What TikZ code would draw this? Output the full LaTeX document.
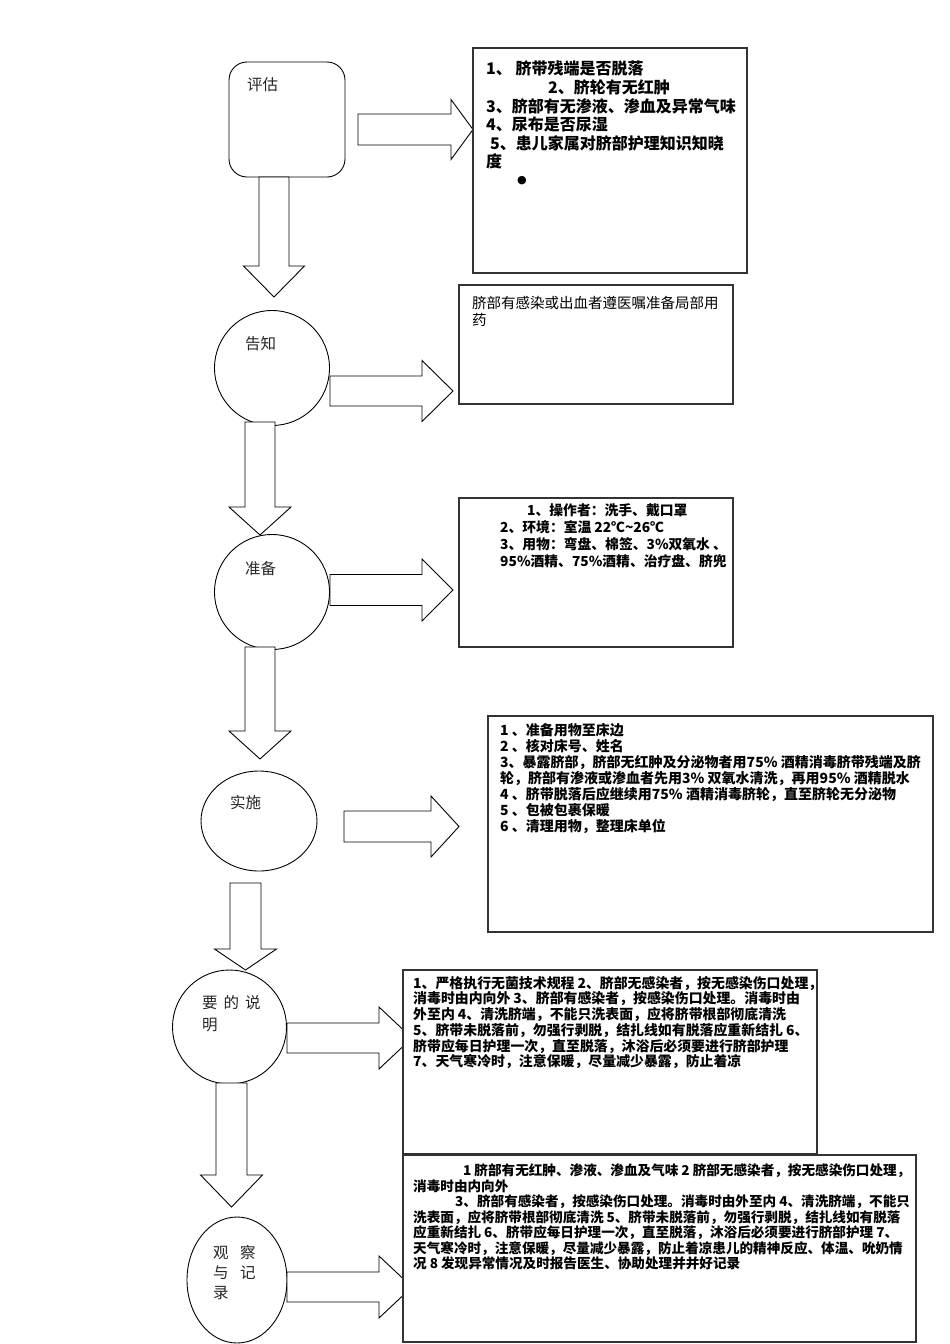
\documentclass[tikz,border=0pt]{standalone}
\usepackage{fontspec}
\setmainfont{Noto Sans CJK SC}
\newfontfamily\dejavu{DejaVu Sans}
\usetikzlibrary{shapes.geometric}
\newcommand\rblk[6]{% x0, xh, tip, yc, shaft half, head half
  \draw[blk] (#1,#4-#5) -- (#2,#4-#5) -- (#2,#4-#6) -- (#3,#4) -- (#2,#4+#6) -- (#2,#4+#5) -- (#1,#4+#5) -- cycle;}
\newcommand\dblk[6]{% xc, y0, yh, tip, shaft half, head half
  \draw[blk] (#1-#5,#2) -- (#1-#5,#3) -- (#1-#6,#3) -- (#1,#4) -- (#1+#6,#3) -- (#1+#5,#3) -- (#1+#5,#2) -- cycle;}
\newcommand\gapsp{\hspace{3pt}}
\begin{document}
\begin{tikzpicture}[x=1pt,y=-1pt,
  box/.style={draw=black!80, line width=1.2pt, fill=white, inner sep=0pt, outer sep=0pt, anchor=north west},
  blk/.style={draw=black, line width=0.9pt, fill=white, line join=miter},
  shp/.style={draw=black, line width=0.9pt, fill=white, inner sep=0pt},
  lbl/.style={font=\fontsize{15.5}{22}\selectfont, text=black!85, inner sep=0pt, anchor=west},
  txt/.style={inner sep=0pt, anchor=north west, align=left}]
\useasboundingbox[fill=white] (0,0) rectangle (950,1344);

% left shapes
\node[shp, rounded corners=18pt, minimum width=116pt, minimum height=115pt] (pg) at (287,119.5) {};
\node[shp, circle, minimum size=115pt] (gz) at (272,368) {};
\node[shp, circle, minimum size=115pt] (zb) at (272,592) {};
\node[shp, ellipse, minimum width=116pt, minimum height=100pt] (ss) at (259,821) {};
\node[shp, circle, minimum size=114pt] (sm) at (229.5,1027) {};
\node[shp, ellipse, minimum width=100pt, minimum height=126pt] (gc) at (237,1280) {};

% labels
\node[lbl] (l1) at (247,85) {评估};
\node[lbl] (l2) at (245,344) {告知};
\node[lbl] (l3) at (245,569) {准备};
\node[lbl] (l4) at (230,803) {实施};
\node[lbl, anchor=north west, align=left] (l5) at (202,995) {要\hspace{6pt}的\hspace{6pt}说\\明};
\node[lbl, anchor=north west, align=left, font=\fontsize{15.5}{20}\selectfont] (l6) at (213,1245) {观\hspace{11.5pt}察\\与\hspace{11.5pt}记\\录};

% down block arrows
\dblk{274}{177}{266}{297}{15}{30.5}
\dblk{260}{422}{507}{535}{15}{31}
\dblk{260}{647}{731}{759}{15}{31}
\dblk{245.5}{883}{949}{970}{15.5}{31}
\dblk{231.5}{1083}{1175}{1207}{15.5}{31}

% right block arrows
\rblk{358}{451}{473}{129.5}{15.5}{30}
\rblk{330}{422}{453}{391}{15}{30.5}
\rblk{330}{422}{453}{590}{15.5}{31}
\rblk{344}{431}{459}{826.5}{15.5}{30.5}
\rblk{287}{379}{412}{1038}{15}{31}
\rblk{287}{379}{412}{1287}{15}{31}

% boxes
\node[box, minimum width=274pt, minimum height=225pt] (b1) at (473,48) {};
\node[box, minimum width=274pt, minimum height=119pt] (b2) at (459,285) {};
\node[box, minimum width=274pt, minimum height=149pt] (b3) at (459,498) {};
\node[box, minimum width=445pt, minimum height=216pt] (b4) at (488,716) {};
\node[box, minimum width=414pt, minimum height=184pt] (b5) at (403,970) {};
\node[box, minimum width=513pt, minimum height=187pt] (b6) at (403,1155) {};

% box texts
\node[txt, font=\bfseries\fontsize{16}{18.6}\selectfont] (t1) at (486,61)
 {1、 脐带残端是否脱落\\\hspace*{62pt}2、脐轮有无红肿\\3、脐部有无渗液、渗血及异常气味\\4、尿布是否尿湿\\\hspace*{4pt}5、患儿家属对脐部护理知识知晓\\度};
\node[inner sep=0pt, font=\dejavu\fontsize{11}{11}\selectfont] (dot) at (522,181) {●};

\node[txt, font=\fontsize{14.5}{17}\selectfont] (t2) at (472,296)
 {脐部有感染或出血者遵医嘱准备局部用\\药};

\node[txt, font=\bfseries\fontsize{13.8}{17}\selectfont] (t3) at (500,503.5)
 {\hspace*{27pt}1、操作者：洗手、戴口罩\\2、环境：室温\gapsp{}22℃\string~26℃\\3、用物：弯盘、棉签、3\%双氧水\gapsp{}、\\95\%酒精、75\%酒精、治疗盘、脐兜};

\node[txt, font=\bfseries\fontsize{14}{16}\selectfont] (t4) at (500,723)
 {1 、准备用物至床边\\2 、核对床号、姓名\\3、暴露脐部，脐部无红肿及分泌物者用75\% 酒精消毒脐带残端及脐\\轮，脐部有渗液或渗血者先用3\% 双氧水清洗，再用95\% 酒精脱水\\4 、脐带脱落后应继续用75\% 酒精消毒脐轮，直至脐轮无分泌物\\5 、包被包裹保暖\\6 、清理用物，整理床单位};

\node[txt, font=\bfseries\fontsize{13.9}{15.7}\selectfont] (t5) at (413,976)
 {1、严格执行无菌技术规程\gapsp{}2、脐部无感染者，按无感染伤口处理，\\消毒时由内向外\gapsp{}3、脐部有感染者，按感染伤口处理。消毒时由\\外至内\gapsp{}4、清洗脐端，不能只洗表面，应将脐带根部彻底清洗\\5、脐带未脱落前，勿强行剥脱，结扎线如有脱落应重新结扎\gapsp{}6、\\脐带应每日护理一次，直至脱落，沐浴后必须要进行脐部护理\\7、天气寒冷时，注意保暖，尽量减少暴露，防止着凉};

\node[txt, font=\bfseries\fontsize{13.6}{15.5}\selectfont] (t6) at (413,1163.5)
 {\hspace*{50pt}1\gapsp{}脐部有无红肿、渗液、渗血及气味\gapsp{}2\gapsp{}脐部无感染者，按无感染伤口处理，\\消毒时由内向外\\\hspace*{42pt}3、脐部有感染者，按感染伤口处理。消毒时由外至内\gapsp{}4、清洗脐端，不能只\\洗表面，应将脐带根部彻底清洗\gapsp{}5、脐带未脱落前，勿强行剥脱，结扎线如有脱落\\应重新结扎\gapsp{}6、脐带应每日护理一次，直至脱落，沐浴后必须要进行脐部护理\gapsp{}7、\\天气寒冷时，注意保暖，尽量减少暴露，防止着凉患儿的精神反应、体温、吮奶情\\况\gapsp{}8\gapsp{}发现异常情况及时报告医生、协助处理并并好记录};
\end{tikzpicture}
\end{document}
